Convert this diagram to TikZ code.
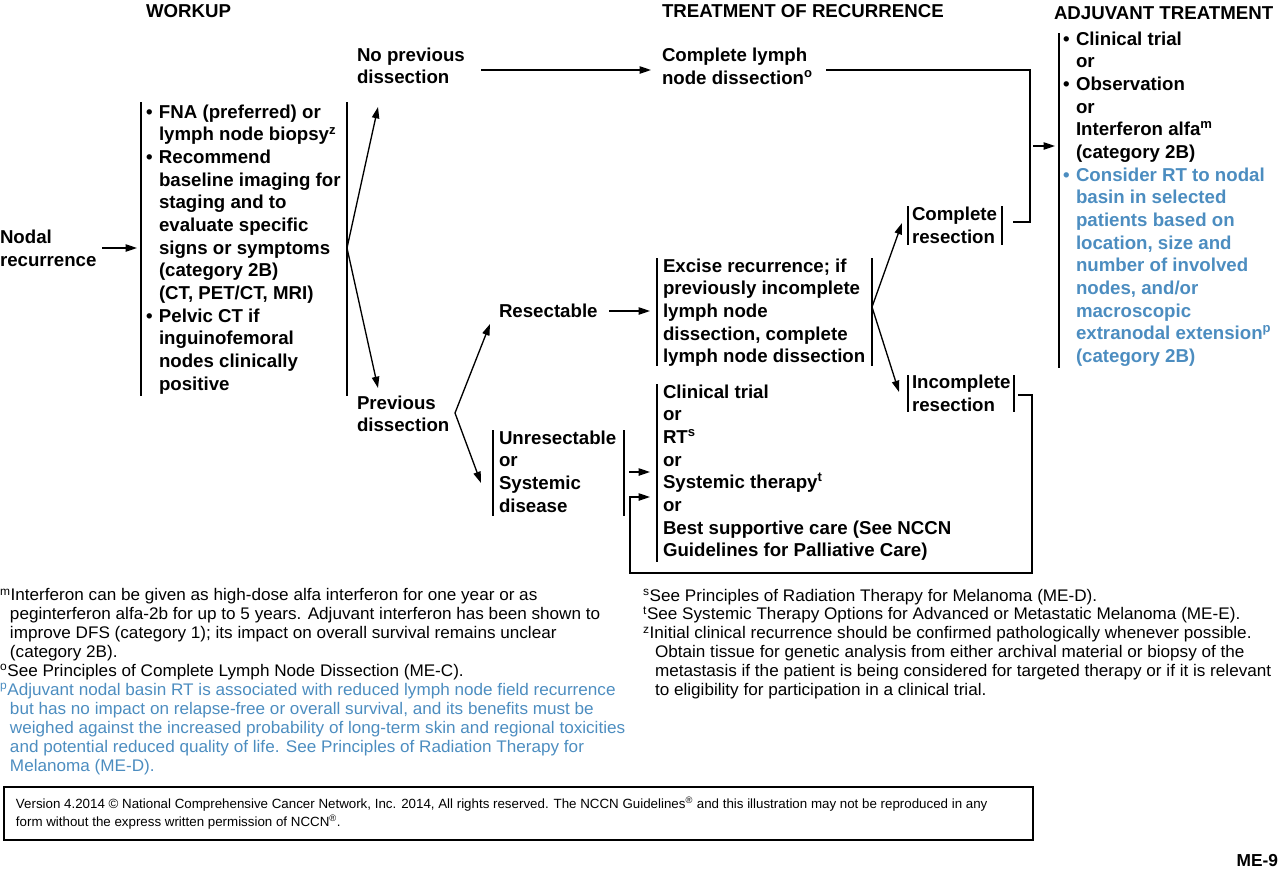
\documentclass[tikz,border=0pt]{standalone}
\usepackage{fontspec}
\setmainfont{Liberation Sans}
\newfontfamily\fnfont[FakeStretch=1.02]{Liberation Sans}
\usetikzlibrary{arrows.meta}
\definecolor{nccnblue}{RGB}{76,141,192}
\newcommand{\nbul}{\llap{\makebox[9.75pt][l]{\textbullet}}}
\newcommand{\fnind}{\hspace*{7.5pt}}
\newcommand{\fnindr}{\hspace*{9pt}}
\begin{document}
\begin{tikzpicture}[x=0.75pt,y=-0.75pt,
  every node/.style={inner sep=0pt, outer sep=0pt, anchor=base west, align=left},
  bt/.style={font=\fontsize{14}{17}\selectfont\bfseries},
  fn/.style={font=\fnfont\fontsize{12.6}{14.2}\selectfont},
  ft/.style={font=\fontsize{10}{13.5}\selectfont},
  conn/.style={line width=1pt},
  arr/.style={line width=1pt,-{Triangle[length=8.5pt,width=5.5pt]}},
  bar/.style={line width=1.1pt},
]
\useasboundingbox (0,0) rectangle (1280,871);
% NOTE: multi-line nodes are placed by the baseline of their LAST line.

% ---------- headers ----------
\node[bt] (hwork) at (146,17) {WORKUP};
\node[bt] (htreat) at (662,17) {TREATMENT OF RECURRENCE};
\node[bt] (hadj) at (1054,19) {ADJUVANT TREATMENT};

% ---------- text nodes ----------
\node[bt] (nodal) at (0,266) {Nodal\\recurrence};
\node[bt] (workup) at (159,390.3) {\nbul FNA (preferred) or\\lymph node biopsy\textsuperscript{z}\\\nbul Recommend\\baseline imaging for\\staging and to\\evaluate specific\\signs or symptoms\\(category 2B)\\(CT, PET/CT, MRI)\\\nbul Pelvic CT if\\inguinofemoral\\nodes clinically\\positive};
\node[bt] (noprev) at (357,83.7) {No previous\\dissection};
\node[bt] (prev) at (357,431.7) {Previous\\dissection};
\node[bt] (clnd) at (662,84.3) {Complete lymph\\node dissection\textsuperscript{o}};
\node[bt] (resect) at (499,317) {Resectable};
\node[bt] (excise) at (663,362.7) {Excise recurrence; if\\previously incomplete\\lymph node\\dissection, complete\\lymph node dissection};
\node[bt] (unres) at (499,512) {Unresectable\\or\\Systemic\\disease};
\node[bt] (opts) at (663,556.7) {Clinical trial\\or\\RT\textsuperscript{s}\\or\\Systemic therapy\textsuperscript{t}\\or\\Best supportive care (See NCCN\\Guidelines for Palliative Care)};
\node[bt] (compl) at (912,243.2) {Complete\\resection};
\node[bt] (incompl) at (912,411) {Incomplete\\resection};
\node[bt] (adj) at (1076,158.6) {\nbul Clinical trial\\or\\\nbul Observation\\or\\Interferon alfa\textsuperscript{m}\\(category 2B)};
\node[bt, text=nccnblue] (adjrt) at (1076,362.6) {\nbul Consider RT to nodal\\basin in selected\\patients based on\\location, size and\\number of involved\\nodes, and/or\\macroscopic\\extranodal extension\textsuperscript{p}\\(category 2B)};

% ---------- bars ----------
\draw[bar] (141,102) -- (141,396);
\draw[bar] (347,102) -- (347,396);
\draw[bar] (657,258) -- (657,366);
\draw[bar] (872,258) -- (872,366);
\draw[bar] (493,430) -- (493,516);
\draw[bar] (624,430) -- (624,516);
\draw[bar] (657,384) -- (657,562);
\draw[bar] (908,206) -- (908,245);
\draw[bar] (1002,206) -- (1002,245);
\draw[bar] (908,375) -- (908,412);
\draw[bar] (1014,375) -- (1014,412);
\draw[bar] (1059,33) -- (1059,368);

% ---------- connector coordinates ----------
\coordinate (nodalE) at (102,248);
\coordinate (workW) at (137,248);
\coordinate (workE) at (347,248);
\coordinate (noprevS) at (378,107);
\coordinate (prevN) at (378,388);
\coordinate (noprevE) at (481,70);
\coordinate (clndW) at (651,70);
\coordinate (prevE) at (455,413);
\coordinate (resectW) at (490,324);
\coordinate (unresW) at (481,483);
\coordinate (resectE) at (609,311);
\coordinate (exciseW) at (650,311);
\coordinate (unresE) at (629,472);
\coordinate (optsW1) at (650,472);
\coordinate (exciseE) at (872,307);
\coordinate (complW) at (902,223);
\coordinate (incomplW) at (899,392);
\coordinate (clndE) at (826,70);
\coordinate (joinT) at (1030,70);
\coordinate (joinB) at (1030,222);
\coordinate (complE) at (1013,222);
\coordinate (adjA) at (1033,146);
\coordinate (adjW) at (1055,146);
\coordinate (incomplE) at (1018,395);
\coordinate (loopA) at (1032,395);
\coordinate (loopB) at (1032,573);
\coordinate (loopC) at (630,573);
\coordinate (loopD) at (630,497);
\coordinate (optsW2) at (650,497);

% ---------- connectors ----------
\draw[arr] (nodalE) -- (workW);
\draw[arr] (workE) -- (noprevS);
\draw[arr] (workE) -- (prevN);
\draw[arr] (noprevE) -- (clndW);
\draw[arr] (prevE) -- (resectW);
\draw[arr] (prevE) -- (unresW);
\draw[arr] (resectE) -- (exciseW);
\draw[arr] (unresE) -- (optsW1);
\draw[arr] (exciseE) -- (complW);
\draw[arr] (exciseE) -- (incomplW);
\draw[conn] (clndE) -- (joinT) -- (joinB) -- (complE);
\draw[arr] (adjA) -- (adjW);
\draw[arr] (incomplE) -- (loopA) -- (loopB) -- (loopC) -- (loopD) -- (optsW2);

% ---------- footnotes ----------
\node[fn] (fnm) at (0,676.7) {\textsuperscript{m}Interferon can be given as high-dose alfa interferon for one year or as\\\fnind peginterferon alfa-2b for up to 5 years. Adjuvant interferon has been shown to\\\fnind improve DFS (category 1); its impact on overall survival remains unclear\\\fnind (category 2B).\\\textsuperscript{o}See Principles of Complete Lymph Node Dissection (ME-C).};
\node[fn, text=nccnblue] (fnp) at (0,771.2) {\textsuperscript{p}Adjuvant nodal basin RT is associated with reduced lymph node field recurrence\\\fnind but has no impact on relapse-free or overall survival, and its benefits must be\\\fnind weighed against the increased probability of long-term skin and regional toxicities\\\fnind and potential reduced quality of life. See Principles of Radiation Therapy for\\\fnind Melanoma (ME-D).};
\node[fn] (fnr) at (643,695.7) {\textsuperscript{s}See Principles of Radiation Therapy for Melanoma (ME-D).\\\textsuperscript{t}See Systemic Therapy Options for Advanced or Metastatic Melanoma (ME-E).\\\textsuperscript{z}Initial clinical recurrence should be confirmed pathologically whenever possible.\\\fnindr Obtain tissue for genetic analysis from either archival material or biopsy of the\\\fnindr metastasis if the patient is being considered for targeted therapy or if it is relevant\\\fnindr to eligibility for participation in a clinical trial.};

% ---------- footer ----------
\draw[line width=1.5pt] (4,787) rectangle (1033,840);
\node[ft] (foot) at (16,826) {Version 4.2014 © National Comprehensive Cancer Network, Inc. 2014, All rights reserved. The NCCN Guidelines\textsuperscript{®} and this illustration may not be reproduced in any\\form without the express written permission of NCCN\textsuperscript{®}.};
\node[anchor=base east, font=\fontsize{13}{15}\selectfont\bfseries] (page) at (1278,866) {ME-9};
\end{tikzpicture}
\end{document}
